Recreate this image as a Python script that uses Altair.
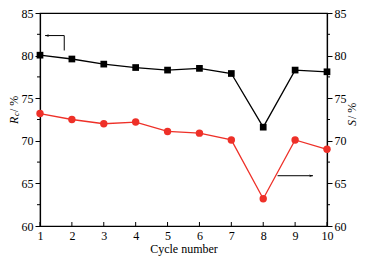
import altair as alt
import pandas as pd

cycles = [1, 2, 3, 4, 5, 6, 7, 8, 9, 10]
rc = [80.05, 79.6, 79.0, 78.6, 78.3, 78.5, 77.9, 71.6, 78.3, 78.1]
s = [73.2, 72.5, 72.0, 72.2, 71.1, 70.9, 70.1, 63.2, 70.1, 69.0]
y_major = [60, 65, 70, 75, 80, 85]
y_minor = [62.5, 67.5, 72.5, 77.5, 82.5]

# annotation arrows (data units)
arrow_left = {"x": 1.16, "x2": 1.76, "y": 82.35, "y2": 80.6}
arrow_right = {"x": 8.45, "x2": 9.56, "y": 65.9}

W, H = 287, 213
FONT = "Liberation Serif"
RED = "#ee3028"

df = pd.DataFrame({"cycle": cycles, "rc": rc, "s": s})
dminor = pd.DataFrame({"v": y_minor})

xs = alt.Scale(domain=[1, 10], nice=False, zero=False)
ys = alt.Scale(domain=[60, 85], nice=False, zero=False)

xaxis = alt.Axis(values=cycles, ticks=False, labelPadding=4, grid=False,
                 title="Cycle number", titlePadding=2, labelFlush=False)


def X(field):
    return alt.X(field, type="quantitative", scale=xs, axis=xaxis)


left_axis = alt.Axis(orient="left", values=y_major, tickSize=5, grid=False,
                     labelPadding=2, title=None, labelFlush=False)
right_axis = alt.Axis(orient="right", values=y_major, tickSize=5, grid=False,
                      labelPadding=2, title=None, labelFlush=False)

base = alt.Chart(df)
black_line = base.mark_line(color="black", strokeWidth=1.3).encode(
    x=X("cycle"), y=alt.Y("rc:Q", scale=ys, axis=left_axis))
black_pts = base.mark_point(shape="square", filled=True, size=45, color="black", opacity=1).encode(
    x=X("cycle"), y=alt.Y("rc:Q", scale=ys, axis=None))
red_line = base.mark_line(color=RED, strokeWidth=1.3).encode(
    x=X("cycle"), y=alt.Y("s:Q", scale=ys, axis=right_axis))
red_pts = base.mark_point(shape="circle", filled=True, size=55, color=RED, opacity=1).encode(
    x=X("cycle"), y=alt.Y("s:Q", scale=ys, axis=None))

minor_l = alt.Chart(dminor).mark_rule(color="black", strokeWidth=1).encode(
    y=alt.Y("v:Q", scale=ys, axis=None), x=alt.value(0), x2=alt.value(-3))
minor_r = alt.Chart(dminor).mark_rule(color="black", strokeWidth=1).encode(
    y=alt.Y("v:Q", scale=ys, axis=None), x=alt.value(W), x2=alt.value(W + 3))
xticks = base.mark_rule(color="black", strokeWidth=1).encode(
    x=X("cycle"), y=alt.value(H), y2=alt.value(H - 4))

al = pd.DataFrame([arrow_left])
ar = pd.DataFrame([arrow_right])
al_h = alt.Chart(al).mark_rule(color="black", strokeWidth=1).encode(
    x=X("x"), x2="x2:Q", y=alt.Y("y:Q", scale=ys, axis=None))
al_v = alt.Chart(al).mark_rule(color="black", strokeWidth=1).encode(
    x=X("x2"), y=alt.Y("y:Q", scale=ys, axis=None), y2="y2:Q")
al_head = alt.Chart(al).mark_point(shape="M0,0L1,-0.35L0.7,0L1,0.35Z", filled=True, size=60,
                                   color="black", opacity=1).encode(
    x=X("x"), y=alt.Y("y:Q", scale=ys, axis=None))
ar_h = alt.Chart(ar).mark_rule(color="black", strokeWidth=1).encode(
    x=X("x"), x2="x2:Q", y=alt.Y("y:Q", scale=ys, axis=None))
ar_head = alt.Chart(ar).mark_point(shape="M0,0L-1,-0.35L-0.7,0L-1,0.35Z", filled=True, size=60,
                                   color="black", opacity=1).encode(
    x=X("x2"), y=alt.Y("y:Q", scale=ys, axis=None))


def txt(t, x, y, size=12, style="normal"):
    return alt.Chart(pd.DataFrame({"t": [t]})).mark_text(
        angle=270, align="left", baseline="middle", font=FONT, fontSize=size,
        fontStyle=style, color="black").encode(text="t:N", x=alt.value(x), y=alt.value(y))


t1 = txt("R", -26, 111, 12, "italic")
t2 = txt("c", -23, 103, 8, "italic")
t3 = txt(" / %", -26, 99, 12)
t4 = txt("S", 312, 113, 12, "italic")
t5 = txt(" / %", 312, 106, 12)

chart = alt.layer(
    black_line, red_line, minor_l, minor_r, xticks,
    al_h, al_v, al_head, ar_h, ar_head,
    black_pts, red_pts, t1, t2, t3, t4, t5
).resolve_scale(y="independent").properties(
    width=W, height=H, padding={"left": 32, "top": 5, "right": 31, "bottom": 30},
    autosize=alt.AutoSizeParams(type="none"), background="white"
).configure_view(stroke="black", strokeWidth=1.2).configure_axis(
    domainColor="black", domainWidth=1.2, tickColor="black", tickWidth=1,
    labelFont=FONT, labelFontSize=12, labelColor="black",
    titleFont=FONT, titleFontSize=12, titleColor="black", titleFontWeight="normal"
)

chart.save("out.html", embed_options={"renderer": "svg", "actions": False})
